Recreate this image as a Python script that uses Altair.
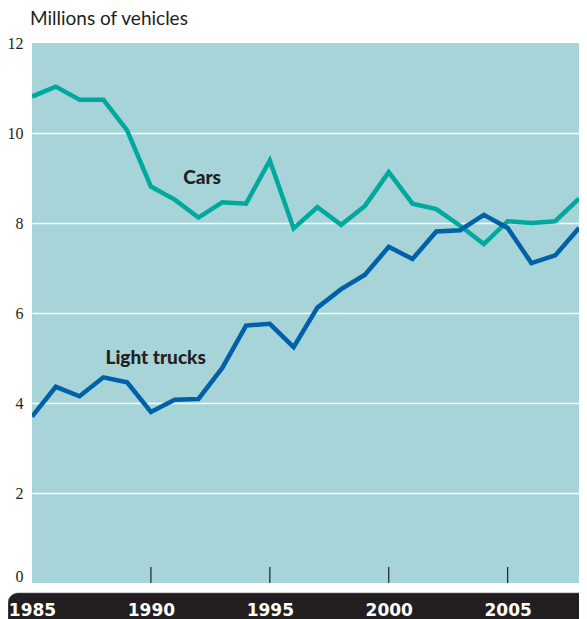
import altair as alt
import pandas as pd

years = list(range(1985, 2009))
cars = [10.81, 11.03, 10.74, 10.74, 10.06, 8.81, 8.52, 8.12, 8.46, 8.43, 9.39, 7.88,
        8.35, 7.96, 8.38, 9.13, 8.43, 8.31, 7.94, 7.53, 8.04, 8.00, 8.04, 8.54]
trucks = [3.70, 4.36, 4.15, 4.57, 4.46, 3.80, 4.07, 4.09, 4.78, 5.72, 5.76, 5.24,
          6.12, 6.53, 6.85, 7.47, 7.20, 7.81, 7.84, 8.18, 7.89, 7.11, 7.28, 7.89]

label_text = ["Cars", "Light trucks"]
label_x = [1992.15, 1990.2]
label_y = [9.0, 5.0]

tick_years = [1990, 1995, 2000, 2005]
x_label_years = [1985, 1990, 1995, 2000, 2005]
y_ticks = [0, 2, 4, 6, 8, 10, 12]
title_text = "Millions of vehicles"

W, H = 547, 540
INK = "#231f20"

df = pd.DataFrame({
    "year": years * 2,
    "value": cars + trucks,
    "series": ["Cars"] * len(years) + ["Light trucks"] * len(years),
})
labels_df = pd.DataFrame({"text": label_text, "year": label_x, "value": label_y})
ticks_df = pd.DataFrame({"year": tick_years})

xscale = alt.Scale(domain=[1985, 2008], nice=False, zero=False)
yscale = alt.Scale(domain=[0, 12], nice=False)

x_axis = alt.Axis(
    values=x_label_years, format="d", title=None, grid=False, ticks=False, domain=False,
    labelFont="DejaVu Sans", labelFontWeight="bold", labelFontSize=17, labelColor="white",
    labelBaseline="alphabetic", labelPadding=32, labelFlush=False, labelOverlap=False, zindex=1,
)
y_axis = alt.Axis(
    values=y_ticks, title=None, ticks=False, domain=False,
    labelFont="Liberation Sans Narrow", labelFontSize=16, labelColor=INK, labelPadding=9,
    labelBaseline="middle",
    labelOffset={"condition": {"test": "datum.value == 0", "value": -7}, "value": 0},
    gridColor={"condition": {"test": "datum.value == 0 || datum.value == 12", "value": "transparent"}, "value": "white"},
    gridWidth=1.5, zindex=0,
)

band = alt.Chart(pd.DataFrame({"a": [0]})).mark_rect(
    color=INK, cornerRadiusTopLeft=10, stroke="#6a6a6a", strokeWidth=0.6, clip=False
).encode(
    x=alt.value(-24), x2=alt.value(W + 5), y=alt.value(H + 10), y2=alt.value(H + 45)
)

title = alt.Chart(pd.DataFrame({"t": [title_text]})).mark_text(
    font="Lato", fontSize=19, color=INK, align="left", baseline="alphabetic", clip=False
).encode(x=alt.value(-2), y=alt.value(-18), text="t:N")

lines = alt.Chart(df).mark_line(strokeWidth=4.5, clip=True).encode(
    x=alt.X("year:Q", scale=xscale, axis=x_axis),
    y=alt.Y("value:Q", scale=yscale, axis=y_axis),
    color=alt.Color("series:N", scale=alt.Scale(domain=["Cars", "Light trucks"],
                                                range=["#00a99d", "#0060a8"]), legend=None),
)

ticks = alt.Chart(ticks_df).mark_rule(color=INK, strokeWidth=1.2).encode(
    x=alt.X("year:Q", scale=xscale), y=alt.value(H - 16), y2=alt.value(H)
)

texts = alt.Chart(labels_df).mark_text(
    font="Lato", fontWeight=900, fontSize=19, color=INK
).encode(
    x=alt.X("year:Q", scale=xscale), y=alt.Y("value:Q", scale=yscale), text="text:N"
)

chart = alt.layer(band, lines, ticks, texts, title).properties(
    width=W, height=H,
    autosize=alt.AutoSizeParams(type="none"),
    padding={"left": 24, "top": 35, "right": 0, "bottom": 36},
    background="white",
).configure_view(fill="#a6d4d8", stroke=None)

chart.save("out.html", embed_options={"renderer": "svg", "actions": False})
